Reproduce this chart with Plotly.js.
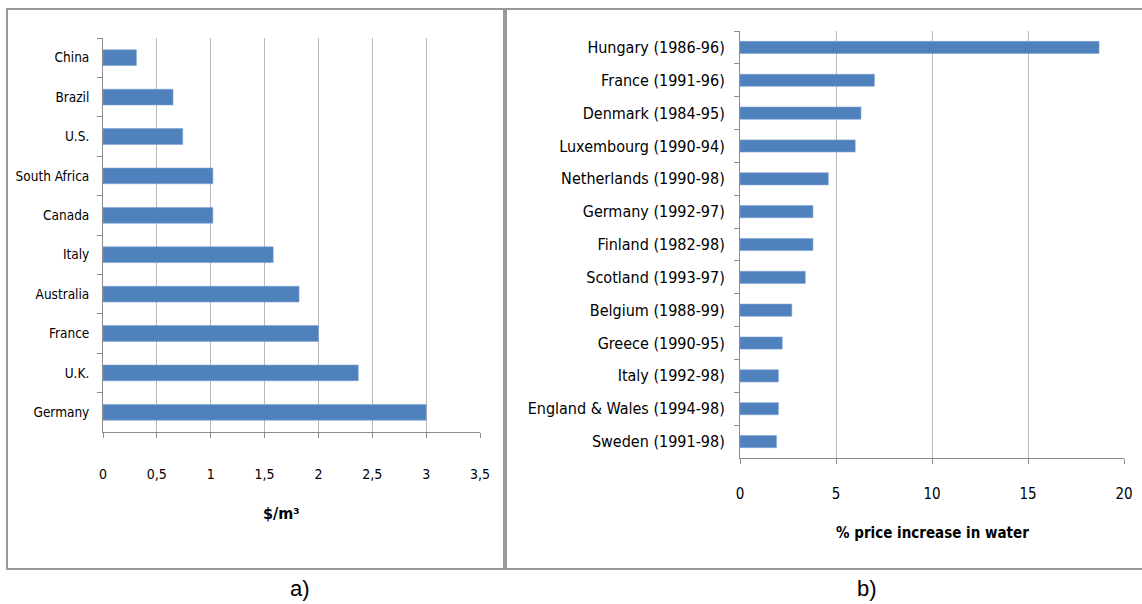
<!DOCTYPE html>
<html>
<head>
<meta charset="utf-8">
<script src="https://cdn.plot.ly/plotly-3.0.1.min.js"></script>
<style>html,body{margin:0;padding:0;background:#fff;}#chart{width:1142px;height:604px;}</style>
</head>
<body>
<div id="chart"></div>
<script>
// Panel a) water prices
const countriesA = ["China","Brazil","U.S.","South Africa","Canada","Italy","Australia","France","U.K.","Germany"];
const pricesA = [0.31,0.65,0.74,1.02,1.02,1.58,1.82,2.0,2.37,3.0];
const ticksA = [0,0.5,1,1.5,2,2.5,3,3.5];
const tickTextA = ["0","0,5","1","1,5","2","2,5","3","3,5"];

// Panel b) % price increase
const countriesB = ["Hungary (1986-96)","France (1991-96)","Denmark (1984-95)","Luxembourg (1990-94)","Netherlands (1990-98)","Germany (1992-97)","Finland (1982-98)","Scotland (1993-97)","Belgium (1988-99)","Greece (1990-95)","Italy (1992-98)","England & Wales (1994-98)","Sweden (1991-98)"];
const increaseB = [18.7,7.0,6.3,6.0,4.6,3.8,3.8,3.4,2.7,2.2,2.0,2.0,1.9];
const ticksB = [0,5,10,15,20];

const W = 1142, H = 604;
const px = v => v / W;
const py = v => 1 - v / H;

const cond = "DejaVu Sans Condensed, Liberation Sans Narrow, sans-serif";
const barColor = "#4F81BD";

const traces = [
  {type:"bar", orientation:"h", x:pricesA, y:countriesA, xaxis:"x", yaxis:"y",
   marker:{color:barColor, line:{color:"#7FA2D3", width:0.6}}, width:0.4, hoverinfo:"x+y"},
  {type:"bar", orientation:"h", x:increaseB, y:countriesB, xaxis:"x2", yaxis:"y2",
   marker:{color:barColor, line:{color:"#7FA2D3", width:0.6}}, width:0.37, hoverinfo:"x+y"}
];

const axisCommon = {showline:true, linecolor:"#8c8c8c", linewidth:1, ticks:"outside", ticklen:5, tickcolor:"#8c8c8c", fixedrange:true};

const layout = {
  width:W, height:H,
  margin:{l:0,r:0,t:0,b:0},
  paper_bgcolor:"#fff", plot_bgcolor:"#fff",
  showlegend:false,
  bargap:0.6,
  xaxis:Object.assign({}, axisCommon, {
    domain:[px(103), px(480)], anchor:"y", range:[0,3.5],
    tickvals:ticksA, ticktext:tickTextA, showgrid:true, gridcolor:"#b8b8b8", zeroline:false,
    tickfont:{family:cond, size:14, color:"#000"}, ticklabelstandoff:24
  }),
  yaxis:Object.assign({}, axisCommon, {
    domain:[py(432), py(38)], anchor:"x", type:"category", autorange:"reversed",
    tickson:"boundaries", showgrid:false,
    tickfont:{family:cond, size:13.5, color:"#000"}, ticklabelstandoff:10
  }),
  xaxis2:Object.assign({}, axisCommon, {
    domain:[px(740), px(1124)], anchor:"y2", range:[0,20],
    tickvals:ticksB, showgrid:true, gridcolor:"#b8b8b8", zeroline:false,
    tickfont:{family:cond, size:15, color:"#000"}, ticklabelstandoff:17
  }),
  yaxis2:Object.assign({}, axisCommon, {
    domain:[py(458), py(31)], anchor:"x2", type:"category", autorange:"reversed",
    tickson:"boundaries", showgrid:false,
    tickfont:{family:cond, size:16, color:"#000"}, ticklabelstandoff:11
  }),
  shapes:[
    {type:"rect", xref:"paper", yref:"paper", x0:px(7), x1:px(504), y0:py(569), y1:py(9), line:{color:"#999", width:2}},
    {type:"rect", xref:"paper", yref:"paper", x0:px(506), x1:px(1150), y0:py(569), y1:py(9), line:{color:"#999", width:2}}
  ],
  annotations:[
    {xref:"paper", yref:"paper", x:px(281), y:py(513), xanchor:"center", yanchor:"middle",
     text:"<b>$/m³</b>", showarrow:false, font:{family:cond, size:16, color:"#000"}},
    {xref:"paper", yref:"paper", x:px(932), y:py(533), xanchor:"center", yanchor:"middle",
     text:"<b>% price increase in water</b>", showarrow:false, font:{family:cond, size:15, color:"#000"}},
    {xref:"paper", yref:"paper", x:px(300), y:py(588), xanchor:"center", yanchor:"middle",
     text:"a)", showarrow:false, font:{family:"Liberation Sans, sans-serif", size:22, color:"#000"}},
    {xref:"paper", yref:"paper", x:px(867), y:py(588), xanchor:"center", yanchor:"middle",
     text:"b)", showarrow:false, font:{family:"Liberation Sans, sans-serif", size:22, color:"#000"}}
  ]
};

Plotly.newPlot("chart", traces, layout, {displayModeBar:false, staticPlot:true});
</script>
</body>
</html>
